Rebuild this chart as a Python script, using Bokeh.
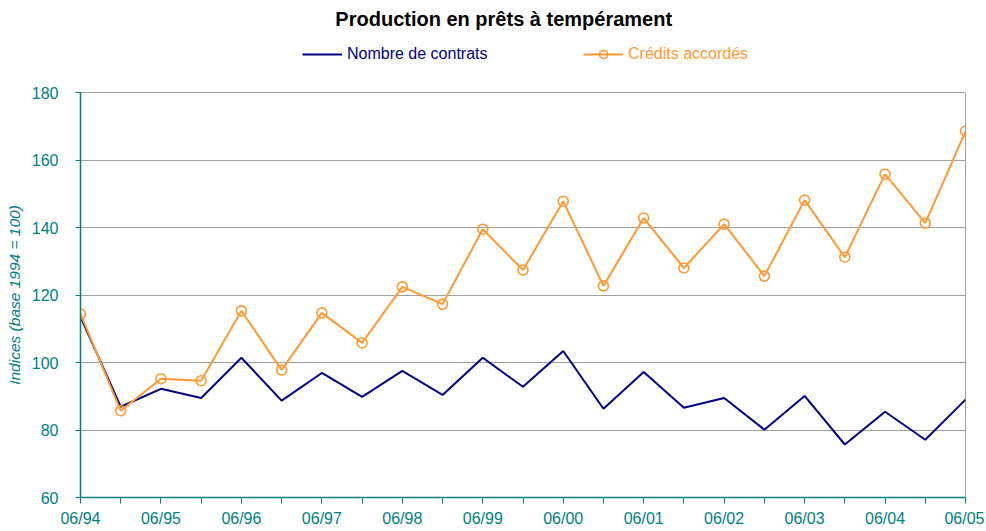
from bokeh.plotting import figure
from bokeh.layouts import column
from bokeh.models import (Range1d, FixedTicker, Legend, LegendItem, Label)
from bokeh.embed import file_html
from bokeh.resources import INLINE

# ---- data ----
periods = ["06/94", "12/94", "06/95", "12/95", "06/96", "12/96", "06/97", "12/97",
           "06/98", "12/98", "06/99", "12/99", "06/00", "12/00", "06/01", "12/01",
           "06/02", "12/02", "06/03", "12/03", "06/04", "12/04", "06/05"]
contrats = [113.5, 86.9, 92.2, 89.5, 101.4, 88.7, 96.9, 89.8, 97.5, 90.4, 101.4, 92.8,
            103.4, 86.3, 97.2, 86.6, 89.5, 80.1, 90.1, 75.7, 85.4, 77.1, 89.0]
credits = [114.4, 85.7, 95.2, 94.6, 115.3, 97.8, 114.7, 105.8, 122.4, 117.3, 139.5, 127.4,
           147.8, 122.7, 142.8, 128.0, 141.0, 125.6, 148.1, 131.2, 155.8, 141.3, 168.5]
y_ticks = [60, 80, 100, 120, 140, 160, 180]

title_text = "Production en  prêts à tempérament"
y_label = "Indices (base 1994 = 100)"
name_contrats = "Nombre de contrats"
name_credits = "Crédits accordés"

TEAL = "#008080"
NAVY = "#000080"
ORANGE = "#FF9933"
GRID = "#a0a0a0"
FONT = "Liberation Sans"

W = 984
HEAD_H = 84
FRAME_LEFT = 80

xs = list(range(len(periods)))
nan = float("nan")

# ---------- header (title + legend) ----------
head = figure(width=W, height=HEAD_H, output_backend="svg", toolbar_location=None,
              x_range=Range1d(0, W), y_range=Range1d(0, HEAD_H),
              x_axis_location=None, y_axis_location=None,
              min_border_left=0, min_border_right=0,
              min_border_top=0, min_border_bottom=0)
head.grid.visible = False
head.outline_line_color = None
head.background_fill_color = "white"
head.border_fill_color = "white"

# header frame is aligned with the chart frame (starts at x = FRAME_LEFT)
head.add_layout(Label(x=506 - FRAME_LEFT, y=66, x_units="screen", y_units="screen",
                      text=title_text, text_font=FONT, text_font_size="20px",
                      text_font_style="bold", text_color="black",
                      text_align="center", text_baseline="middle"))

# legend swatch renderers (no visible data)
h1 = head.line(x=[nan, nan], y=[nan, nan], line_color=NAVY, line_width=2)
h2 = head.line(x=[nan, nan], y=[nan, nan], line_color=ORANGE, line_width=2)
h3 = head.scatter(x=[nan], y=[nan], marker="circle", size=10, line_color=ORANGE,
                  line_width=1.6, fill_alpha=0)


def make_legend(item, color, x):
    return Legend(items=[item], location=(x, 20), orientation="horizontal",
                  glyph_width=40, glyph_height=20, label_height=20, label_standoff=5,
                  padding=0, margin=0, spacing=0,
                  border_line_alpha=0, background_fill_alpha=0,
                  label_text_color=color, label_text_font=FONT,
                  label_text_font_size="16px")


head.add_layout(make_legend(LegendItem(label=name_contrats, renderers=[h1]), NAVY,
                            302 - FRAME_LEFT))
head.add_layout(make_legend(LegendItem(label=name_credits, renderers=[h2, h3]), ORANGE,
                            583 - FRAME_LEFT))

# ---------- main chart ----------
p = figure(width=W, height=445, output_backend="svg", toolbar_location=None,
           x_range=Range1d(0, len(periods) - 1), y_range=Range1d(60, 180),
           min_border_left=FRAME_LEFT, min_border_right=W - 965, min_border_top=8,
           min_border_bottom=31)

p.outline_line_color = GRID
p.outline_line_width = 1
p.background_fill_color = "white"
p.border_fill_color = "white"

r1 = p.line(xs, contrats, line_color=NAVY, line_width=2)
r2 = p.line(xs, credits, line_color=ORANGE, line_width=2)
r3 = p.scatter(xs, credits, marker="circle", size=10, line_color=ORANGE,
               line_width=1.6, fill_alpha=0)

p.xgrid.visible = False
p.ygrid.grid_line_color = GRID
p.ygrid.grid_line_width = 1
p.ygrid.ticker = FixedTicker(ticks=y_ticks)

p.yaxis.ticker = FixedTicker(ticks=y_ticks)
p.yaxis.axis_line_color = TEAL
p.yaxis.axis_line_width = 1.5
p.yaxis.major_tick_line_color = TEAL
p.yaxis.major_tick_in = 0
p.yaxis.major_tick_out = 5
p.yaxis.minor_tick_line_color = None
p.yaxis.major_label_text_color = TEAL
p.yaxis.major_label_text_font = FONT
p.yaxis.major_label_text_font_size = "16px"
p.yaxis.major_label_standoff = 17
p.yaxis.axis_label = y_label
p.yaxis.axis_label_text_color = TEAL
p.yaxis.axis_label_text_font = FONT
p.yaxis.axis_label_text_font_size = "15.5px"
p.yaxis.axis_label_text_font_style = "italic"
p.yaxis.axis_label_standoff = 6

p.xaxis.ticker = FixedTicker(ticks=xs)
p.xaxis.major_label_overrides = {i: (lab if i % 2 == 0 else "") for i, lab in enumerate(periods)}
p.xaxis.axis_line_color = TEAL
p.xaxis.axis_line_width = 1.5
p.xaxis.major_tick_line_color = TEAL
p.xaxis.major_tick_in = 0
p.xaxis.major_tick_out = 6
p.xaxis.minor_tick_line_color = None
p.xaxis.major_label_text_color = TEAL
p.xaxis.major_label_text_font = FONT
p.xaxis.major_label_text_font_size = "16px"
p.xaxis.major_label_standoff = 6

layout = column(head, p, spacing=0)
open("out.html", "w").write(file_html(layout, INLINE))
